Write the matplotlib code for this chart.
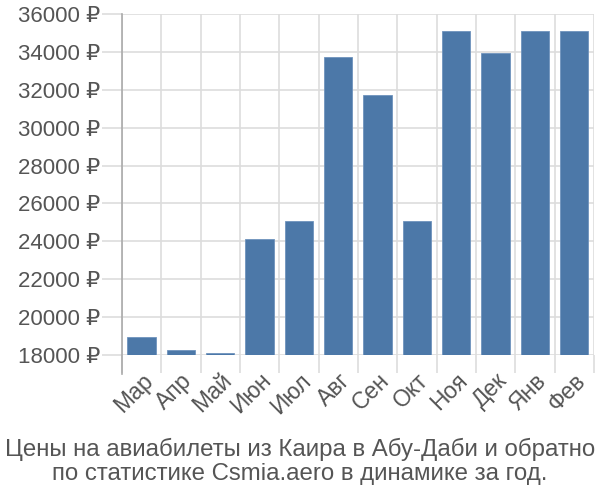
import numpy as np
import matplotlib
matplotlib.use("Agg")
import matplotlib.pyplot as plt

months = ['Мар', 'Апр', 'Май', 'Июн', 'Июл', 'Авг', 'Сен', 'Окт', 'Ноя', 'Дек', 'Янв', 'Фев']
prices = [18950, 18270, 18100, 24140, 25090, 33710, 31700, 25090, 35090, 33920, 35090, 35090]
yticks = [18000, 20000, 22000, 24000, 26000, 28000, 30000, 32000, 34000, 36000]
title = 'Цены на авиабилеты из Каира в Абу-Даби и обратно\nпо статистике Csmia.aero в динамике за год.'

plt.rcParams['font.family'] = ['Liberation Sans', 'DejaVu Sans']
text_color = '#555555'
grid_color = '#dddddd'

fig = plt.figure(figsize=(6, 5), dpi=100)
ax = fig.add_axes([0.203, 0.29, 0.787, 0.682])

x = np.arange(len(months))
ax.bar(x, prices, width=0.72, color='#4c78a8', edgecolor='#6f93bd', linewidth=0.6, zorder=3)

ax.set_xlim(-0.5, len(months) - 0.5)
ax.set_ylim(18000, 36000)

ax.set_yticks(yticks)
ax.set_yticklabels([f'{v} ₽' for v in yticks])
ax.set_xticks(x)
ax.set_xticklabels(months, rotation=45, ha='right', rotation_mode='anchor')
ax.set_xticks(np.arange(len(months) + 1) - 0.5, minor=True)

ax.tick_params(axis='y', length=14.5, width=1.2, color=grid_color, labelsize=16, labelcolor=text_color, pad=1)
ax.tick_params(axis='x', which='major', length=0, labelsize=16.5, labelcolor=text_color, pad=10)
ax.tick_params(axis='x', which='minor', length=13, width=1.2, color=grid_color)

ax.grid(axis='y', color=grid_color, linewidth=1.2, zorder=0)
ax.grid(axis='x', which='minor', color=grid_color, linewidth=1.2, zorder=0)

for side in ['top', 'right', 'bottom']:
    ax.spines[side].set_visible(False)
ax.spines['left'].set_color('#aaaaaa')
ax.spines['left'].set_linewidth(1.2)
ax.spines['left'].set_bounds(17000, 36000)
ax.spines['left'].set_clip_on(False)

fig.text(0.5, 0.078, title, ha='center', va='center', fontsize=17.3, color=text_color, linespacing=1.12)

fig.savefig('out.png', dpi=100)
